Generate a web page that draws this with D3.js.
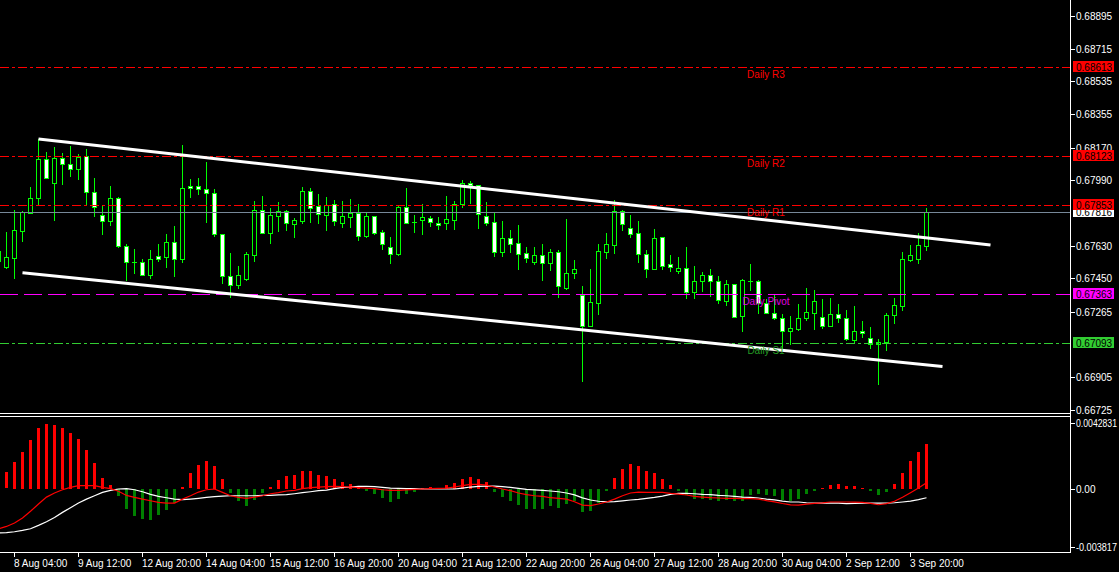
<!DOCTYPE html>
<meta charset="utf-8">
<style>
  body { margin: 0; background-color: black; overflow: hidden; }
  text { font-family: 'Liberation Sans', Arial, sans-serif; font-size: 10px; }
</style>
<div id="chart"></div>
<script src="https://d3js.org/d3.v7.min.js"></script>
<script>
// window layout
var width = 1119, height = 572;
var axisX = 1070;
var mainBottom = 413, macdBottom = 552;

// 4H candles, first one is cut by the left edge
var firstIndex = -1;
var opens = [0.67545,
  0.67514,0.67564,0.67713,0.67812,0.67891,0.68106,0.67974,0.68111,0.68078,0.68051,
  0.68122,0.67924,0.67797,0.67768,0.67891,0.67627,0.67539,0.67539,0.67470,0.67572,
  0.67566,0.67649,0.67555,0.67957,0.67957,0.67941,0.67919,0.67693,0.67465,0.67415,
  0.67445,0.67580,0.67825,0.67702,0.67795,0.67819,0.67751,0.67768,0.67930,0.67847,
  0.67801,0.67858,0.67757,0.67790,0.67810,0.67685,0.67792,0.67704,0.67623,0.67586,
  0.67843,0.67762,0.67770,0.67783,0.67755,0.67757,0.67773,0.67861,0.67974,0.67963,
  0.67794,0.67759,0.67597,0.67671,0.67643,0.67588,0.67542,0.67577,0.67536,0.67594,
  0.67399,0.67478,0.67357,0.67189,0.67316,0.67597,0.67635,0.67819,0.67726,0.67698,
  0.67583,0.67503,0.67676,0.67527,0.67489,0.67505,0.67377,0.67434,0.67467,0.67434,
  0.67324,0.67417,0.67244,0.67434,0.67434,0.67313,0.67258,0.67230,0.67159,0.67173,
  0.67230,0.67261,0.67236,0.67189,0.67252,0.67230,0.67112,0.67159,0.67120,0.67087,
  0.67101,0.67247,0.67300,0.67551,0.67555,0.67630];
var highs = [0.67606,
  0.67705,0.67827,0.67821,0.67953,0.68218,0.68146,0.68174,0.68140,0.68179,0.68135,
  0.68162,0.68003,0.67854,0.67959,0.67898,0.67639,0.67612,0.67555,0.67606,0.67639,
  0.67694,0.67737,0.68185,0.67997,0.68003,0.68091,0.67941,0.67693,0.67590,0.67518,
  0.67595,0.67874,0.67904,0.67838,0.67871,0.67827,0.67784,0.67953,0.67946,0.67915,
  0.67896,0.67882,0.67874,0.67887,0.67860,0.67814,0.67794,0.67716,0.67678,0.67849,
  0.67948,0.67799,0.67860,0.67794,0.67788,0.67904,0.67874,0.67992,0.67985,0.67964,
  0.67871,0.67816,0.67766,0.67716,0.67744,0.67623,0.67623,0.67639,0.67612,0.67606,
  0.67777,0.67551,0.67408,0.67502,0.67639,0.67700,0.67882,0.67825,0.67799,0.67766,
  0.67606,0.67720,0.67678,0.67579,0.67566,0.67623,0.67518,0.67485,0.67502,0.67463,
  0.67441,0.67420,0.67447,0.67529,0.67439,0.67338,0.67358,0.67255,0.67243,0.67307,
  0.67395,0.67386,0.67336,0.67340,0.67307,0.67274,0.67296,0.67214,0.67181,0.67114,
  0.67258,0.67340,0.67594,0.67632,0.67698,0.67838];
var lows = [0.67540,
  0.67507,0.67454,0.67657,0.67808,0.67860,0.68001,0.67771,0.67971,0.68015,0.67999,
  0.67861,0.67795,0.67696,0.67746,0.67624,0.67443,0.67481,0.67469,0.67454,0.67547,
  0.67514,0.67465,0.67539,0.67900,0.67916,0.67762,0.67685,0.67426,0.67349,0.67399,
  0.67441,0.67547,0.67698,0.67646,0.67711,0.67716,0.67680,0.67753,0.67762,0.67757,
  0.67716,0.67746,0.67731,0.67735,0.67661,0.67680,0.67694,0.67612,0.67536,0.67579,
  0.67753,0.67707,0.67696,0.67740,0.67720,0.67722,0.67724,0.67841,0.67863,0.67729,
  0.67744,0.67573,0.67573,0.67595,0.67502,0.67540,0.67531,0.67441,0.67496,0.67347,
  0.67391,0.67454,0.66886,0.67185,0.67254,0.67564,0.67590,0.67716,0.67678,0.67542,
  0.67459,0.67500,0.67502,0.67491,0.67480,0.67344,0.67344,0.67382,0.67355,0.67316,
  0.67303,0.67236,0.67162,0.67386,0.67261,0.67258,0.67225,0.67056,0.67087,0.67167,
  0.67221,0.67173,0.67177,0.67185,0.67210,0.67112,0.67100,0.67129,0.67068,0.66868,
  0.67056,0.67206,0.67277,0.67544,0.67536,0.67606];
var closes = [0.67600,
  0.67566,0.67716,0.67814,0.67891,0.68106,0.68001,0.68111,0.68078,0.68051,0.68120,
  0.67924,0.67841,0.67764,0.67891,0.67627,0.67539,0.67538,0.67470,0.67555,0.67555,
  0.67649,0.67555,0.67946,0.67946,0.67941,0.67919,0.67693,0.67465,0.67415,0.67467,
  0.67583,0.67825,0.67702,0.67797,0.67819,0.67757,0.67770,0.67930,0.67839,0.67806,
  0.67852,0.67768,0.67792,0.67810,0.67685,0.67792,0.67702,0.67641,0.67586,0.67843,
  0.67757,0.67761,0.67788,0.67762,0.67746,0.67775,0.67860,0.67974,0.67963,0.67803,
  0.67757,0.67597,0.67671,0.67641,0.67586,0.67561,0.67577,0.67536,0.67594,0.67406,
  0.67478,0.67502,0.67189,0.67318,0.67599,0.67639,0.67819,0.67748,0.67696,0.67583,
  0.67503,0.67671,0.67520,0.67511,0.67505,0.67377,0.67434,0.67467,0.67434,0.67329,
  0.67417,0.67239,0.67439,0.67433,0.67313,0.67261,0.67230,0.67159,0.67175,0.67230,
  0.67263,0.67324,0.67189,0.67252,0.67230,0.67114,0.67159,0.67148,0.67087,0.67098,
  0.67247,0.67302,0.67555,0.67577,0.67632,0.67816];

// MACD window
var histogram = [0.00060,
  0.00107,0.00177,0.00242,0.00321,0.00400,0.00426,0.00419,0.00400,0.00365,0.00326,
  0.00255,0.00168,0.00072,0.00024,-0.00044,-0.00129,-0.00177,-0.00198,-0.00201,-0.00168,
  -0.00138,-0.00094,0.00013,0.00100,0.00157,0.00183,0.00151,0.00066,-0.00024,-0.00081,
  -0.00109,-0.00070,-0.00024,0.00013,0.00059,0.00085,0.00092,0.00118,0.00118,0.00092,
  0.00085,0.00066,0.00046,0.00033,0.00007,-0.00011,-0.00031,-0.00057,-0.00083,-0.00064,
  -0.00031,-0.00018,0.00003,0.00013,0.00007,0.00026,0.00039,0.00066,0.00079,0.00066,
  0.00046,-0.00018,-0.00050,-0.00077,-0.00103,-0.00129,-0.00129,-0.00129,-0.00109,-0.00122,
  -0.00096,-0.00081,-0.00149,-0.00142,-0.00090,-0.00015,0.00072,0.00131,0.00164,0.00151,
  0.00118,0.00105,0.00066,0.00026,-0.00013,-0.00039,-0.00064,-0.00064,-0.00070,-0.00077,
  -0.00070,-0.00077,-0.00077,-0.00037,-0.00031,-0.00039,-0.00046,-0.00072,-0.00079,-0.00066,
  -0.00033,-0.00013,0.00007,0.00026,0.00033,0.00020,0.00020,0.00007,-0.00013,-0.00039,
  -0.00020,0.00033,0.00105,0.00183,0.00242,0.00295];
var redLine = [-0.00262,
  -0.00247,-0.00225,-0.00192,-0.00148,-0.00100,-0.00055,-0.00028,-0.00007,0.00009,0.00020,
  0.00020,0.00020,0.00009,0.00000,-0.00017,-0.00044,-0.00057,-0.00068,-0.00079,-0.00090,
  -0.00094,-0.00094,-0.00068,-0.00046,-0.00022,-0.00007,-0.00002,-0.00024,-0.00046,-0.00057,
  -0.00063,-0.00055,-0.00046,-0.00033,-0.00026,-0.00015,-0.00011,0.00000,0.00007,0.00011,
  0.00013,0.00015,0.00013,0.00011,0.00007,0.00004,0.00000,-0.00007,-0.00011,-0.00011,
  -0.00007,-0.00004,-0.00002,0.00000,0.00002,0.00004,0.00011,0.00020,0.00028,0.00028,
  0.00024,0.00011,-0.00002,-0.00013,-0.00028,-0.00039,-0.00046,-0.00050,-0.00059,-0.00063,
  -0.00068,-0.00085,-0.00107,-0.00111,-0.00100,-0.00087,-0.00068,-0.00046,-0.00028,-0.00022,
  -0.00024,-0.00024,-0.00024,-0.00031,-0.00035,-0.00041,-0.00050,-0.00055,-0.00059,-0.00061,
  -0.00063,-0.00063,-0.00065,-0.00065,-0.00068,-0.00078,-0.00086,-0.00097,-0.00106,-0.00107,
  -0.00101,-0.00096,-0.00093,-0.00087,-0.00087,-0.00087,-0.00088,-0.00090,-0.00096,-0.00105,
  -0.00098,-0.00082,-0.00056,-0.00026,0.00005,0.00039];
var whiteLine = [-0.00290,
  -0.00288,-0.00282,-0.00273,-0.00262,-0.00240,-0.00216,-0.00188,-0.00155,-0.00124,-0.00094,
  -0.00068,-0.00046,-0.00024,-0.00011,-0.00002,0.00000,-0.00007,-0.00020,-0.00037,-0.00050,
  -0.00059,-0.00068,-0.00072,-0.00068,-0.00063,-0.00057,-0.00052,-0.00048,-0.00046,-0.00046,
  -0.00046,-0.00046,-0.00044,-0.00044,-0.00041,-0.00039,-0.00033,-0.00026,-0.00020,-0.00013,
  -0.00009,0.00000,0.00009,0.00011,0.00015,0.00015,0.00013,0.00009,0.00004,0.00002,
  0.00000,0.00000,-0.00002,-0.00002,-0.00002,-0.00002,-0.00002,0.00004,0.00011,0.00015,
  0.00017,0.00017,0.00013,0.00009,0.00002,-0.00004,-0.00008,-0.00011,-0.00015,-0.00020,
  -0.00028,-0.00040,-0.00060,-0.00074,-0.00082,-0.00086,-0.00085,-0.00080,-0.00074,-0.00070,
  -0.00063,-0.00057,-0.00048,-0.00037,-0.00031,-0.00031,-0.00033,-0.00037,-0.00039,-0.00044,
  -0.00046,-0.00050,-0.00055,-0.00057,-0.00061,-0.00068,-0.00073,-0.00081,-0.00087,-0.00087,
  -0.00092,-0.00094,-0.00094,-0.00094,-0.00094,-0.00098,-0.00096,-0.00094,-0.00094,-0.00094,
  -0.00094,-0.00092,-0.00087,-0.00081,-0.00072,-0.00059];

// time axis
var timeTickIndex = [1, 9, 17, 25, 33, 41, 49, 57, 65, 73, 81, 89, 97, 105, 113];
var timeTickLabels = ["8 Aug 04:00", "9 Aug 12:00", "12 Aug 20:00", "14 Aug 04:00",
  "15 Aug 12:00", "16 Aug 20:00", "20 Aug 04:00", "21 Aug 12:00", "22 Aug 20:00",
  "26 Aug 04:00", "27 Aug 12:00", "28 Aug 20:00", "30 Aug 04:00", "2 Sep 12:00", "3 Sep 20:00"];

// price axis
var priceTicks = [0.68895, 0.68715, 0.68535, 0.68355, 0.68170, 0.67990,
  0.67630, 0.67450, 0.67265, 0.66905, 0.66725];
var macdTicks = [0.004283, 0, -0.003817];
var macdTickLabels = ["0.0042831", "0.00", "-0.003817"];

// pivot levels
var levelNames = ["Daily R3", "Daily R2", "Daily R1", "Daily Pivot", "Daily S1"];
var levelValues = [0.68613, 0.68123, 0.67853, 0.67363, 0.67093];
var currentPrice = 0.67816;

// channel lines: [start, end] in candle index and price
var channelIndex = [[4, 123], [2, 117]];
var channelPrice = [[0.68218, 0.67634], [0.67481, 0.66964]];

var levelStyle = {
  "Daily R3":    {line: "#ff0000", text: "#ff0000", box: "#ff0000", dash: "9,3,3,3"},
  "Daily R2":    {line: "#ff0000", text: "#ff0000", box: "#ff0000", dash: "9,3,3,3"},
  "Daily R1":    {line: "#ff0000", text: "#ff0000", box: "#ff0000", dash: "9,3,3,3"},
  "Daily Pivot": {line: "#ff00ff", text: "#e000e0", box: "#ff00ff", dash: "18,6"},
  "Daily S1":    {line: "#32cd32", text: "#249b24", box: "#32cd32", dash: "9,3,3,3"}
};

var svg = d3.select("#chart").append("svg")
  .attr("width", width)
  .attr("height", height)
  .style("display", "block")
  .style("background", "black");

var x = d3.scaleLinear().domain([0, 133]).range([6, axisX]);
var yP = d3.scaleLinear().domain([0.66725, 0.68895]).range([410, 16]);
var yM = d3.scaleLinear().domain([-0.003817, 0.004283]).range([547, 423.3]);

function px(v) { return Math.round(v) + 0.5; }

svg.append("defs").append("clipPath").attr("id", "mainClip")
  .append("rect").attr("x", 0).attr("y", 0).attr("width", axisX).attr("height", mainBottom);
svg.select("defs").append("clipPath").attr("id", "macdClip")
  .append("rect").attr("x", 0).attr("y", 417).attr("width", axisX).attr("height", macdBottom - 417);

var candles = opens.map(function(o, i) {
  return {k: i + firstIndex, o: o, h: highs[i], l: lows[i], c: closes[i],
    hist: histogram[i], red: redLine[i], white: whiteLine[i]};
});

// ---- price window ----
var main = svg.append("g").attr("clip-path", "url(#mainClip)");
var cg = main.append("g").attr("shape-rendering", "crispEdges");

cg.selectAll(".wick").data(candles).enter().append("line")
  .attr("x1", function(d) { return Math.round(x(d.k)) + 0.5; })
  .attr("x2", function(d) { return Math.round(x(d.k)) + 0.5; })
  .attr("y1", function(d) { return Math.round(yP(d.h)); })
  .attr("y2", function(d) { return Math.round(yP(d.l)) + 1; })
  .attr("stroke", "#00ff00");

candles.forEach(function(d) {
  var cx = Math.round(x(d.k));
  var top = Math.round(yP(Math.max(d.o, d.c)));
  var bot = Math.round(yP(Math.min(d.o, d.c)));
  if (bot - top < 1) {
    // doji
    cg.append("line")
      .attr("x1", cx - 2).attr("x2", cx + 3)
      .attr("y1", top + 0.5).attr("y2", top + 0.5)
      .attr("stroke", "#00ff00");
  } else {
    cg.append("rect")
      .attr("x", cx - 1.5).attr("y", top + 0.5)
      .attr("width", 4).attr("height", bot - top)
      .attr("fill", d.c >= d.o ? "black" : "white")
      .attr("stroke", "#00ff00");
  }
});

// bid line
main.append("line")
  .attr("x1", 0).attr("x2", axisX)
  .attr("y1", px(yP(currentPrice))).attr("y2", px(yP(currentPrice)))
  .attr("stroke", "#778899").attr("shape-rendering", "crispEdges");

// pivot level lines
levelNames.forEach(function(name, i) {
  var st = levelStyle[name];
  var y = px(yP(levelValues[i]));
  main.append("line")
    .attr("x1", 0).attr("x2", axisX).attr("y1", y).attr("y2", y)
    .attr("stroke", st.line).attr("stroke-dasharray", st.dash)
    .attr("shape-rendering", "crispEdges");
});

// channel
channelIndex.forEach(function(ci, i) {
  main.append("line")
    .attr("x1", x(ci[0]) + 0.5).attr("y1", yP(channelPrice[i][0]))
    .attr("x2", x(ci[1]) + 0.5).attr("y2", yP(channelPrice[i][1]))
    .attr("stroke", "white").attr("stroke-width", 3);
});

levelNames.forEach(function(name, i) {
  main.append("text")
    .attr("x", 766).attr("y", Math.round(yP(levelValues[i])) + 11)
    .attr("text-anchor", "middle")
    .attr("fill", levelStyle[name].text)
    .text(name);
});

// ---- MACD window ----
var macd = svg.append("g").attr("clip-path", "url(#macdClip)");
macd.append("g").attr("shape-rendering", "crispEdges")
  .selectAll("rect").data(candles).enter().append("rect")
  .attr("x", function(d) { return Math.round(x(d.k)) - 1; })
  .attr("width", 3)
  .attr("y", function(d) { return Math.round(Math.min(yM(0), yM(d.hist))); })
  .attr("height", function(d) { return Math.max(1, Math.round(Math.abs(yM(d.hist) - yM(0)))); })
  .attr("fill", function(d) { return d.hist > 0 ? "#ff0000" : "#008000"; });

var lineWhite = d3.line().x(function(d) { return x(d.k) + 0.5; }).y(function(d) { return yM(d.white); });
var lineRed = d3.line().x(function(d) { return x(d.k) + 0.5; }).y(function(d) { return yM(d.red); });
macd.append("path").datum(candles).attr("d", lineWhite)
  .attr("fill", "none").attr("stroke", "white").attr("stroke-width", 1.2);
macd.append("path").datum(candles).attr("d", lineRed)
  .attr("fill", "none").attr("stroke", "#ff0000").attr("stroke-width", 1.2);

// ---- frames ----
var frame = svg.append("g").attr("stroke", "white").attr("shape-rendering", "crispEdges");
frame.append("line").attr("x1", axisX + 0.5).attr("x2", axisX + 0.5).attr("y1", 0).attr("y2", macdBottom + 1);
frame.append("line").attr("x1", 0).attr("x2", axisX).attr("y1", 413.5).attr("y2", 413.5);
frame.append("line").attr("x1", 0).attr("x2", axisX).attr("y1", 416.5).attr("y2", 416.5);
frame.append("line").attr("x1", 0).attr("x2", axisX + 1).attr("y1", macdBottom + 0.5).attr("y2", macdBottom + 0.5);

// price axis
var axisG = svg.append("g");
priceTicks.forEach(function(v) {
  var y = Math.round(yP(v));
  axisG.append("line").attr("x1", axisX).attr("x2", axisX + 5)
    .attr("y1", y + 0.5).attr("y2", y + 0.5)
    .attr("stroke", "white").attr("shape-rendering", "crispEdges");
  axisG.append("text").attr("x", axisX + 6).attr("y", y + 4)
    .attr("fill", "white").text(d3.format(".5f")(v));
});
macdTicks.forEach(function(v, i) {
  var y = Math.round(yM(v));
  axisG.append("line").attr("x1", axisX).attr("x2", axisX + 5)
    .attr("y1", y + 0.5).attr("y2", y + 0.5)
    .attr("stroke", "white").attr("shape-rendering", "crispEdges");
  var t = axisG.append("text").attr("x", axisX + 6).attr("y", y + 4)
    .attr("fill", "white").text(macdTickLabels[i]);
  if (macdTickLabels[i].length > 4) {
    t.attr("textLength", 41).attr("lengthAdjust", "spacingAndGlyphs");
  }
});

// price boxes on the axis: bid box first, level boxes over it
function priceBox(v, fill) {
  var y = Math.round(yP(v));
  axisG.append("rect").attr("x", axisX + 3).attr("y", y - 6)
    .attr("width", 41).attr("height", 11).attr("fill", fill);
  axisG.append("text").attr("x", axisX + 6).attr("y", y + 4)
    .attr("fill", "black").text(d3.format(".5f")(v));
}
priceBox(currentPrice, "white");
levelNames.forEach(function(name, i) { priceBox(levelValues[i], levelStyle[name].box); });

// time axis
timeTickIndex.forEach(function(k, i) {
  var tx = Math.round(x(k));
  axisG.append("line").attr("x1", tx + 0.5).attr("x2", tx + 0.5)
    .attr("y1", macdBottom).attr("y2", macdBottom + 5)
    .attr("stroke", "white").attr("shape-rendering", "crispEdges");
  axisG.append("text").attr("x", tx).attr("y", 567)
    .attr("fill", "white").text(timeTickLabels[i]);
});
</script>
